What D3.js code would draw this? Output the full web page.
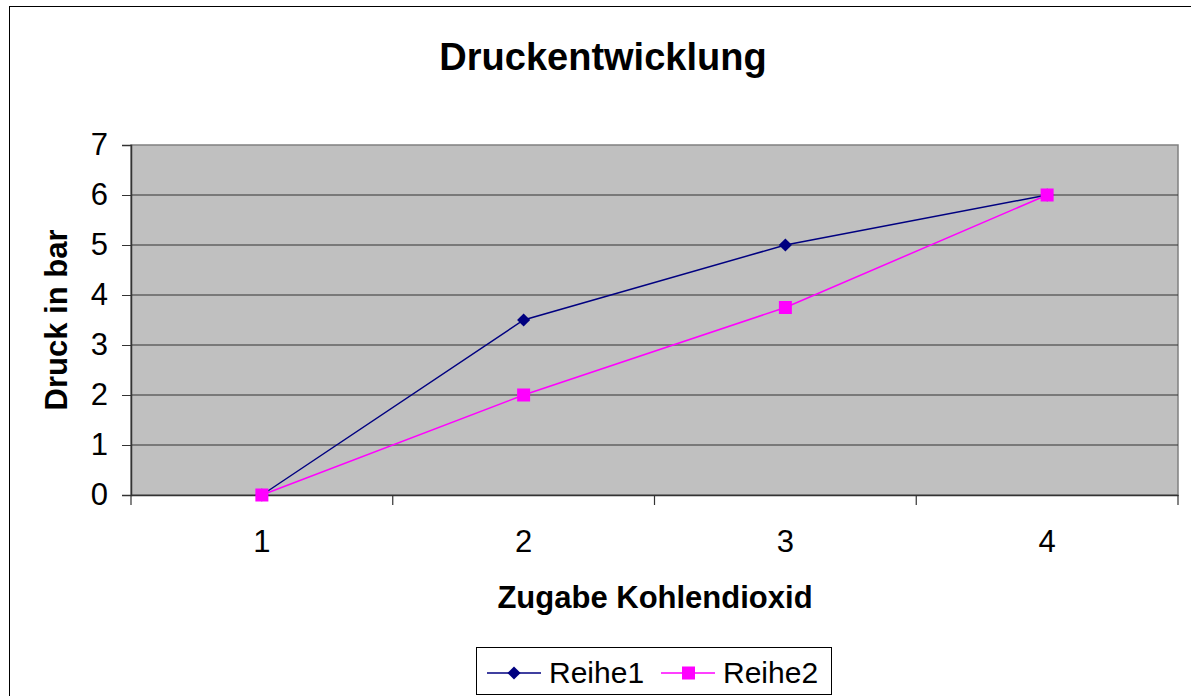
<!DOCTYPE html>
<html>
<head>
<meta charset="utf-8">
<script src="https://cdn.jsdelivr.net/npm/d3@7"></script>
<style>
  body { margin: 0; background: #fff; }
  svg { display: block; font-family: "Liberation Sans", Arial, sans-serif; }
</style>
</head>
<body>
<svg id="chart" width="1191" height="696"></svg>
<script>
// data
const categories = ['1', '2', '3', '4']
const reihe1 = [0, 3.5, 5, 6]
const reihe2 = [0, 2, 3.75, 6]
const yTicks = [0, 1, 2, 3, 4, 5, 6, 7]
const seriesNames = ['Reihe1', 'Reihe2']

const svg = d3.select('#chart')
const W = 1191, H = 696
const plot = {left: 131, right: 1178, top: 145, bottom: 495}
const FONT = '"Liberation Sans", Arial, sans-serif'

// outer chart border
svg.append('rect')
  .attr('x', 9.5).attr('y', 6.5)
  .attr('width', W + 10).attr('height', H + 10)
  .attr('fill', '#fff').attr('stroke', '#000').attr('stroke-width', 1)

// scales
const x = d3.scaleBand().domain(categories).range([plot.left, plot.right])
const y = d3.scaleLinear().domain([0, 7]).range([plot.bottom, plot.top])
const cx = (i) => x(categories[i]) + x.bandwidth() / 2

// plot background
svg.append('rect')
  .attr('x', plot.left).attr('y', plot.top)
  .attr('width', plot.right - plot.left).attr('height', plot.bottom - plot.top)
  .attr('fill', '#c0c0c0').attr('stroke', '#808080').attr('stroke-width', 1.5)

// gridlines
svg.append('g').selectAll('line')
  .data(yTicks.filter(d => d > 0 && d < 7))
  .enter().append('line')
  .attr('x1', plot.left).attr('x2', plot.right)
  .attr('y1', d => y(d)).attr('y2', d => y(d))
  .attr('stroke', '#333').attr('stroke-width', 1)

// y axis
const yAxis = svg.append('g')
  .attr('transform', `translate(${plot.left},0)`)
  .call(d3.axisLeft(y).tickValues(yTicks).tickSize(9).tickPadding(14).tickFormat(d3.format('d')))
yAxis.select('.domain').attr('stroke', '#333').attr('stroke-width', 1.5)
yAxis.selectAll('.tick line').attr('stroke', '#333')
yAxis.selectAll('.tick text').attr('font-size', 31).attr('fill', '#000')
  .attr('font-family', FONT)

// x axis
const xAxis = svg.append('g')
  .attr('transform', `translate(0,${plot.bottom})`)
  .call(d3.axisBottom(x).tickSize(0).tickPadding(35))
xAxis.select('.domain').attr('stroke', '#333').attr('stroke-width', 1.5)
xAxis.selectAll('.tick text').attr('font-size', 31).attr('fill', '#000')
  .attr('font-family', FONT)
// tick marks between categories
const bounds = categories.map(c => x(c)).concat([plot.right])
xAxis.selectAll('.sep').data(bounds).enter().append('line')
  .attr('class', 'sep')
  .attr('x1', d => d).attr('x2', d => d)
  .attr('y1', 0).attr('y2', 10)
  .attr('stroke', '#333').attr('stroke-width', 1.2)

// lines
const line = d3.line().x((d, i) => cx(i)).y(d => y(d))
svg.append('path').datum(reihe1).attr('d', line)
  .attr('fill', 'none').attr('stroke', '#000080').attr('stroke-width', 1.5)
svg.append('path').datum(reihe2).attr('d', line)
  .attr('fill', 'none').attr('stroke', '#ff00ff').attr('stroke-width', 1.5)

// markers
const diamond = d3.symbol().type(d3.symbolDiamond2).size(110)
svg.append('g').selectAll('path').data(reihe1).enter().append('path')
  .attr('transform', (d, i) => `translate(${cx(i)},${y(d)})`)
  .attr('d', diamond).attr('fill', '#000080')
svg.append('g').selectAll('rect').data(reihe2).enter().append('rect')
  .attr('x', (d, i) => cx(i) - 6.5).attr('y', d => y(d) - 6.5)
  .attr('width', 13).attr('height', 13).attr('fill', '#ff00ff')

// title
svg.append('text').attr('x', 603).attr('y', 70)
  .attr('text-anchor', 'middle').attr('font-size', 38).attr('font-weight', 'bold')
  .text('Druckentwicklung')

// axis titles
svg.append('text').attr('x', 655).attr('y', 608)
  .attr('text-anchor', 'middle').attr('font-size', 31).attr('font-weight', 'bold')
  .text('Zugabe Kohlendioxid')
svg.append('text')
  .attr('transform', `translate(67,${(plot.top + plot.bottom) / 2}) rotate(-90)`)
  .attr('text-anchor', 'middle').attr('font-size', 31).attr('font-weight', 'bold')
  .text('Druck in bar')

// legend
const legend = svg.append('g')
legend.append('rect').attr('x', 476.5).attr('y', 647.5).attr('width', 355).attr('height', 47)
  .attr('fill', '#fff').attr('stroke', '#000').attr('stroke-width', 1)
const legendItems = [
  {name: seriesNames[0], color: '#000080', x0: 487, shape: 'diamond'},
  {name: seriesNames[1], color: '#ff00ff', x0: 661, shape: 'square'}
]
legendItems.forEach(it => {
  const ly = 673
  legend.append('line').attr('x1', it.x0).attr('x2', it.x0 + 54)
    .attr('y1', ly).attr('y2', ly).attr('stroke', it.color).attr('stroke-width', 1.5)
  if (it.shape === 'diamond') {
    legend.append('path').attr('transform', `translate(${it.x0 + 27},${ly})`)
      .attr('d', diamond).attr('fill', it.color)
  } else {
    legend.append('rect').attr('x', it.x0 + 21).attr('y', ly - 6.5)
      .attr('width', 13).attr('height', 13).attr('fill', it.color)
  }
  legend.append('text').attr('x', it.x0 + 62).attr('y', 683)
    .attr('font-size', 30).text(it.name)
})
</script>
</body>
</html>
